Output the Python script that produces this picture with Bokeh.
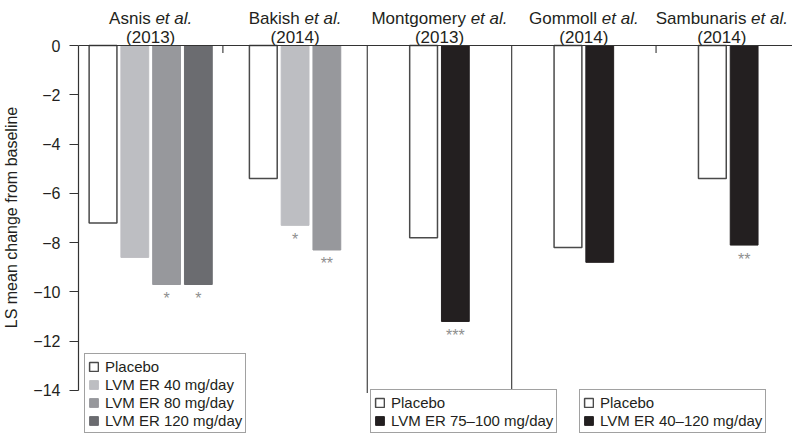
from bokeh.plotting import figure
from bokeh.models import Range1d, FixedTicker, Span, Legend, LegendItem, ColumnDataSource
from bokeh.core.properties import value
from bokeh.embed import file_html
from bokeh.resources import INLINE

# ---------------- data ----------------
studies = ["Asnis", "Bakish", "Montgomery", "Gommoll", "Sambunaris"]
years = ["(2013)", "(2014)", "(2013)", "(2014)", "(2014)"]
placebo = [-7.2, -5.4, -7.8, -8.2, -5.4]
lvm_40 = [-8.6, -7.3]            # Asnis, Bakish
lvm_80 = [-9.7, -8.3]            # Asnis, Bakish
lvm_120 = [-9.7]                 # Asnis
lvm_flex = [-11.2, -8.8, -8.1]   # Montgomery, Gommoll, Sambunaris
sig_40 = ["", "*"]
sig_80 = ["*", "**"]
sig_120 = ["*"]
sig_flex = ["***", "", "**"]
y_ticks = [0, -2, -4, -6, -8, -10, -12, -14]
legend1_labels = ["Placebo", "LVM ER 40 mg/day", "LVM ER 80 mg/day", "LVM ER 120 mg/day"]
legend2_labels = ["Placebo", "LVM ER 75\u2013100 mg/day"]
legend3_labels = ["Placebo", "LVM ER 40\u2013120 mg/day"]

# ---------------- style / layout ----------------
FONT = "Liberation Sans"
INK = "#231f20"
C_PLA = "white"
C_40 = "#bdbec2"
C_80 = "#97989c"
C_120 = "#6b6c70"
C_FLEX = "#231f20"
STAR = "#8f8f8f"

W, H = 792, 434
LEFT = 73
PX_PER_UNIT = 145.4            # width of one study panel in px
PX_PER_Y = 24.64               # px per y unit
ZERO_PX = 45                   # distance of y=0 from canvas top
SLOT = 32.0 / PX_PER_UNIT
BAR_W = 28.0 / PX_PER_UNIT

panels = [
    ["pla", "40", "80", "120"],
    ["pla", "40", "80"],
    ["pla", "flex"],
    ["pla", "flex"],
    ["pla", "flex"],
]

def slot_x(panel, key):
    keys = panels[panel]
    j = keys.index(key)
    n = len(keys)
    return panel + 0.5 + (j - (n - 1) / 2.0) * SLOT

x_pla = [slot_x(i, "pla") for i in range(5)]
idx_40 = [i for i in range(5) if "40" in panels[i]]
idx_80 = [i for i in range(5) if "80" in panels[i]]
idx_120 = [i for i in range(5) if "120" in panels[i]]
idx_flex = [i for i in range(5) if "flex" in panels[i]]
x_40 = [slot_x(i, "40") for i in idx_40]
x_80 = [slot_x(i, "80") for i in idx_80]
x_120 = [slot_x(i, "120") for i in idx_120]
x_flex = [slot_x(i, "flex") for i in idx_flex]

y_top = ZERO_PX / PX_PER_Y
y_bot = -(H - ZERO_PX) / PX_PER_Y
p = figure(width=W, height=H, output_backend="svg", toolbar_location=None,
           x_range=Range1d(0, (W - LEFT) / PX_PER_UNIT), y_range=Range1d(y_bot, y_top),
           x_axis_location=None, y_axis_location="left",
           min_border_left=LEFT, min_border_right=0, min_border_top=0, min_border_bottom=0)
p.outline_line_color = None
p.grid.visible = False
p.background_fill_color = "white"

# y axis
ya = p.yaxis[0]
ya.bounds = (-14, 0)
ya.ticker = FixedTicker(ticks=y_ticks)
ya.major_label_overrides = {float(t): (str(t).replace("-", "\u2212")) for t in y_ticks}
ya.major_tick_out = 9
ya.major_tick_in = 0
ya.minor_tick_out = 0
ya.minor_tick_in = 0
ya.axis_line_color = "#333333"
ya.axis_line_width = 1.2
ya.major_tick_line_color = "#333333"
ya.major_tick_line_width = 1.2
ya.major_label_text_font = FONT
ya.major_label_text_font_size = "16px"
ya.major_label_text_color = INK
ya.major_label_standoff = 9
ya.axis_label = "LS mean change from baseline"
ya.axis_label_text_font = FONT
ya.axis_label_text_font_size = "16px"
ya.axis_label_text_font_style = "normal"
ya.axis_label_text_color = INK
ya.axis_label_standoff = 10

# zero line
p.add_layout(Span(location=0, dimension="width", line_color="#333333", line_width=1.2))

# panel separators
sep_x = [1, 2, 3, 4]
sep_bottom = [-0.3, -14.1, -14.1, -0.3]
p.segment(x0=sep_x, y0=[0] * 4, x1=sep_x, y1=sep_bottom, line_color="#444444", line_width=1.2)

# bars
r_pla = p.vbar(x=x_pla, top=0, bottom=placebo, width=BAR_W, fill_color=C_PLA,
               line_color="#4a4a4a", line_width=1.5)
r_40 = p.vbar(x=x_40, top=0, bottom=lvm_40, width=BAR_W, fill_color=C_40, line_color=C_40)
r_80 = p.vbar(x=x_80, top=0, bottom=lvm_80, width=BAR_W, fill_color=C_80, line_color=C_80)
r_120 = p.vbar(x=x_120, top=0, bottom=lvm_120, width=BAR_W, fill_color=C_120, line_color=C_120)
r_flex = p.vbar(x=x_flex, top=0, bottom=lvm_flex, width=BAR_W, fill_color=C_FLEX, line_color=C_FLEX)

# significance stars
STAR_GAP = 0.22
sx, sy, st = [], [], []
for xs, vals, sigs in [(x_40, lvm_40, sig_40), (x_80, lvm_80, sig_80),
                       (x_120, lvm_120, sig_120), (x_flex, lvm_flex, sig_flex)]:
    for xx, vv, ss in zip(xs, vals, sigs):
        if ss:
            sx.append(xx); sy.append(vv - STAR_GAP); st.append(ss)
p.text(x=sx, y=sy, text=st, text_align="center", text_baseline="top",
       text_font=value(FONT), text_font_size="16px", text_color=STAR)

# titles: "Name et al." with italic "et al.", then year
AW = {"A": 667, "B": 667, "G": 778, "M": 833, "S": 667, "a": 556, "b": 556, "e": 556,
      "g": 556, "h": 556, "i": 222, "k": 500, "l": 222, "m": 833, "n": 556, "o": 556,
      "r": 333, "s": 500, "t": 278, "u": 556, "y": 500, " ": 278, ".": 278}
TSIZE = 17

def tw(s):
    return sum(AW.get(c, 556) for c in s) * TSIZE / 1000.0

name_off, etal_off, year_off = [], [], []
for i, s in enumerate(studies):
    total = tw(s) + tw(" ") + tw("et al.")
    center_px = LEFT + (i + 0.5) * PX_PER_UNIT
    shift = min(0.0, (W - 5) - (center_px + total / 2.0))   # keep inside the canvas
    name_off.append(-total / 2.0 + shift)
    etal_off.append(-total / 2.0 + tw(s) + tw(" ") + shift)
    year_off.append(shift)

centers = [i + 0.5 for i in range(5)]
Y_LINE1 = (ZERO_PX - 18) / PX_PER_Y
Y_LINE2 = (ZERO_PX - 37) / PX_PER_Y
src_t = ColumnDataSource(dict(x=centers, y=[Y_LINE1] * 5, y2=[Y_LINE2] * 5, name=studies,
                              etal=["et al."] * 5, year=years,
                              noff=name_off, eoff=etal_off, yoff=year_off))
p.text(x="x", y="y", text="name", x_offset="noff", source=src_t, text_align="left",
       text_baseline="alphabetic", text_font=value(FONT), text_font_size=f"{TSIZE}px",
       text_color=INK)
p.text(x="x", y="y", text="etal", x_offset="eoff", source=src_t, text_align="left",
       text_baseline="alphabetic", text_font=value(FONT), text_font_size=f"{TSIZE}px",
       text_font_style="italic", text_color=INK)
p.text(x="x", y="y2", text="year", x_offset="yoff", source=src_t, text_align="center",
       text_baseline="alphabetic", text_font=value(FONT), text_font_size=f"{TSIZE}px",
       text_color=INK)

# legends
def make_legend(labels, renderers, loc):
    lg = Legend(items=[LegendItem(label=l, renderers=[r]) for l, r in zip(labels, renderers)],
                location=loc, orientation="vertical")
    lg.label_text_font = FONT
    lg.label_text_font_size = "15px"
    lg.label_text_color = INK
    lg.glyph_width = 11
    lg.glyph_height = 11
    lg.label_height = 18
    lg.label_standoff = 6
    lg.spacing = 0
    lg.padding = 3
    lg.margin = 0
    lg.border_line_color = "#444444"
    lg.border_line_width = 1.2
    lg.background_fill_color = "white"
    lg.background_fill_alpha = 1.0
    return lg

p.add_layout(make_legend(legend1_labels, [r_pla, r_40, r_80, r_120], (6, 1)))
p.add_layout(make_legend(legend2_labels, [r_pla, r_flex], (292, 1)))
p.add_layout(make_legend(legend3_labels, [r_pla, r_flex], (501, 1)))

open("out.html", "w").write(file_html(p, INLINE))
